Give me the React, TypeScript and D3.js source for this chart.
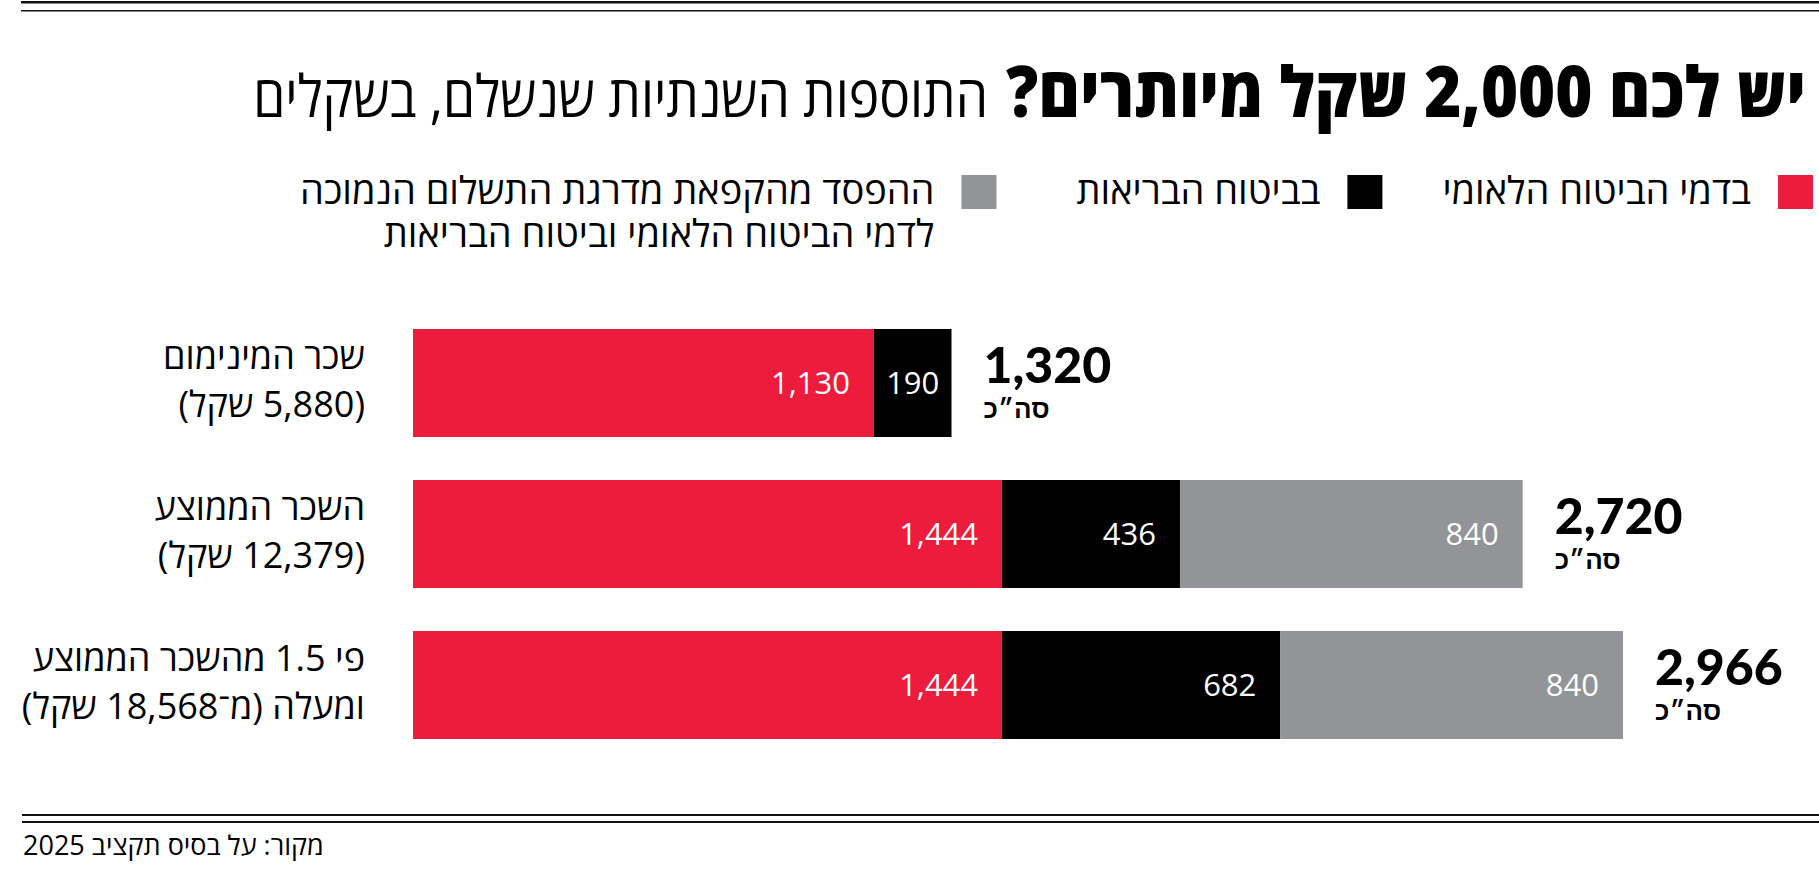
import React, { useEffect, useRef } from "react";
import * as d3 from "d3";

// ---- data ----
const categories = ["שכר המינימום", "השכר הממוצע", "פי 1.5 מהשכר הממוצע"];
const categorySub = ["(5,880 שקל)", "(12,379 שקל)", "ומעלה (מ־18,568 שקל)"];
const nationalInsurance = [1130, 1444, 1444];
const healthInsurance = [190, 436, 682];
const thresholdLoss = [0, 840, 840];
const totals = [1320, 2720, 2966];
const seriesKeys = ["ni", "health", "loss"];
const seriesNames: string[][] = [
  ["בדמי הביטוח הלאומי"],
  ["בביטוח הבריאות"],
  ["ההפסד מהקפאת מדרגת התשלום הנמוכה", "לדמי הביטוח הלאומי וביטוח הבריאות"],
];
const seriesColors = ["#ED1C3C", "#000000", "#939497"];
const titleBold = "יש לכם 2,000 שקל מיותרים?";
const titleRegular = "התוספות השנתיות שנשלם, בשקלים";
const totalLabel = "סה״כ";
const sourceText = "מקור: על בסיס תקציב 2025";

const W = 1819;
const H = 869;
const HEB = "'Open Sans', 'Liberation Sans', 'DejaVu Sans', sans-serif";
const HEB_BOLD = "'Liberation Sans', 'Open Sans', 'DejaVu Sans', sans-serif";
const NUM = "Lato, 'Open Sans', sans-serif";
const legendGaps = [60, 80, 0];

export default function App() {
  const ref = useRef<SVGSVGElement | null>(null);

  useEffect(() => {
    const svg = d3.select(ref.current);
    svg.selectAll("*").remove();

    const rows = categories.map((c, i) => ({
      cat: c,
      ni: nationalInsurance[i],
      health: healthInsurance[i],
      loss: thresholdLoss[i],
      total: totals[i],
      sub: categorySub[i],
    }));

    const x = d3.scaleLinear().domain([0, d3.max(totals) as number]).range([413, 1623]);
    const y = d3
      .scaleBand<string>()
      .domain(categories)
      .range([329, 739])
      .paddingInner(0.2848)
      .paddingOuter(0);
    const color = d3.scaleOrdinal<string, string>().domain(seriesKeys).range(seriesColors);

    // top rules
    svg.append("rect").attr("x", 21).attr("y", 1).attr("width", W - 21).attr("height", 2.5).attr("fill", "#111");
    svg.append("rect").attr("x", 21).attr("y", 10).attr("width", W - 21).attr("height", 1.5).attr("fill", "#111");

    // title (condensed by horizontal scaling to the reference widths)
    const addTitle = (txt: string, right: number, width: number, size: number, weight: number) => {
      const t = svg
        .append("text")
        .attr("x", 0)
        .attr("y", 0)
        .attr("direction", "rtl")
        .attr("text-anchor", "start")
        .attr("font-family", HEB)
        .attr("font-weight", weight)
        .attr("font-size", size)
        .attr("fill", "#000")
        .text(txt);
      const w = (t.node() as SVGTextElement).getComputedTextLength();
      t.attr("transform", `translate(${right},117) scale(${width / w},1)`);
    };
    addTitle(titleBold, 1806, 800, 70, 800);
    addTitle(titleRegular, 988, 735, 58, 400);

    // legend
    let lx = 1813;
    seriesNames.forEach((lines, i) => {
      const g = svg.append("g");
      g.append("rect")
        .attr("x", lx - 35)
        .attr("y", 175)
        .attr("width", 35)
        .attr("height", 34)
        .attr("fill", seriesColors[i]);
      const tr = lx - 35 - 27;
      const t = g
        .append("text")
        .attr("y", 204)
        .attr("direction", "rtl")
        .attr("text-anchor", "start")
        .attr("font-family", HEB)
        .attr("font-size", 38)
        .attr("fill", "#000");
      lines.forEach((ln, j) => {
        t.append("tspan")
          .attr("x", tr)
          .attr("dy", j === 0 ? 0 : 43)
          .text(ln);
      });
      let maxW = 0;
      t.selectAll<SVGTSpanElement, unknown>("tspan").each(function () {
        maxW = Math.max(maxW, this.getComputedTextLength());
      });
      lx = tr - maxW - legendGaps[i];
    });

    // bars
    const stack = d3.stack<any>().keys(seriesKeys)(rows);
    const layers = svg
      .append("g")
      .selectAll("g")
      .data(stack)
      .join("g")
      .attr("fill", (d) => color(d.key));
    layers
      .selectAll("rect")
      .data((d) => d.filter((s) => s[1] - s[0] > 0))
      .join("rect")
      .attr("x", (s) => x(s[0]))
      .attr("y", (s) => y(s.data.cat) as number)
      .attr("width", (s) => x(s[1]) - x(s[0]))
      .attr("height", y.bandwidth());

    // value labels
    stack.forEach((layer) => {
      layer.forEach((s) => {
        const v = s[1] - s[0];
        if (v <= 0) return;
        const x0 = x(s[0]);
        const x1 = x(s[1]);
        const narrow = x1 - x0 < 100;
        svg
          .append("text")
          .attr("x", narrow ? (x0 + x1) / 2 : x1 - 24)
          .attr("y", (y(s.data.cat) as number) + y.bandwidth() / 2 + 11)
          .attr("text-anchor", narrow ? "middle" : "end")
          .attr("font-family", HEB)
          .attr("font-size", 31)
          .attr("fill", "#fff")
          .text(d3.format(",")(v));
      });
    });

    // totals
    rows.forEach((r) => {
      const cy = (y(r.cat) as number) + y.bandwidth() / 2;
      const tx = x(r.total) + 32;
      svg
        .append("text")
        .attr("x", tx)
        .attr("y", cy)
        .attr("font-family", NUM)
        .attr("font-weight", 900)
        .attr("font-size", 50)
        .attr("fill", "#000")
        .text(d3.format(",")(r.total));
      svg
        .append("text")
        .attr("x", tx)
        .attr("y", cy + 35)
        .attr("direction", "rtl")
        .attr("text-anchor", "end")
        .attr("font-family", HEB_BOLD)
        .attr("font-weight", 700)
        .attr("font-size", 26)
        .attr("fill", "#000")
        .text(totalLabel);
    });

    // category labels
    rows.forEach((r) => {
      const cy = (y(r.cat) as number) + y.bandwidth() / 2;
      svg
        .append("text")
        .attr("x", 365)
        .attr("y", cy - 14)
        .attr("direction", "rtl")
        .attr("text-anchor", "start")
        .attr("font-family", HEB)
        .attr("font-size", 36)
        .attr("fill", "#000")
        .text(r.cat);
      svg
        .append("text")
        .attr("x", 365)
        .attr("y", cy + 34)
        .attr("direction", "rtl")
        .attr("text-anchor", "start")
        .attr("font-family", HEB)
        .attr("font-size", 36)
        .attr("fill", "#000")
        .text(r.sub);
    });

    // footer rules
    svg.append("rect").attr("x", 22).attr("y", 814).attr("width", W - 22).attr("height", 2).attr("fill", "#111");
    svg.append("rect").attr("x", 22).attr("y", 821).attr("width", W - 22).attr("height", 2).attr("fill", "#111");
    svg
      .append("text")
      .attr("x", 23)
      .attr("y", 855)
      .attr("direction", "rtl")
      .attr("text-anchor", "end")
      .attr("font-family", HEB)
      .attr("font-size", 27)
      .attr("fill", "#000")
      .text(sourceText);
  }, []);

  return (
    <svg
      ref={ref}
      width={W}
      height={H}
      style={{ position: "absolute", left: 0, top: 0, background: "#fff" }}
    />
  );
}
